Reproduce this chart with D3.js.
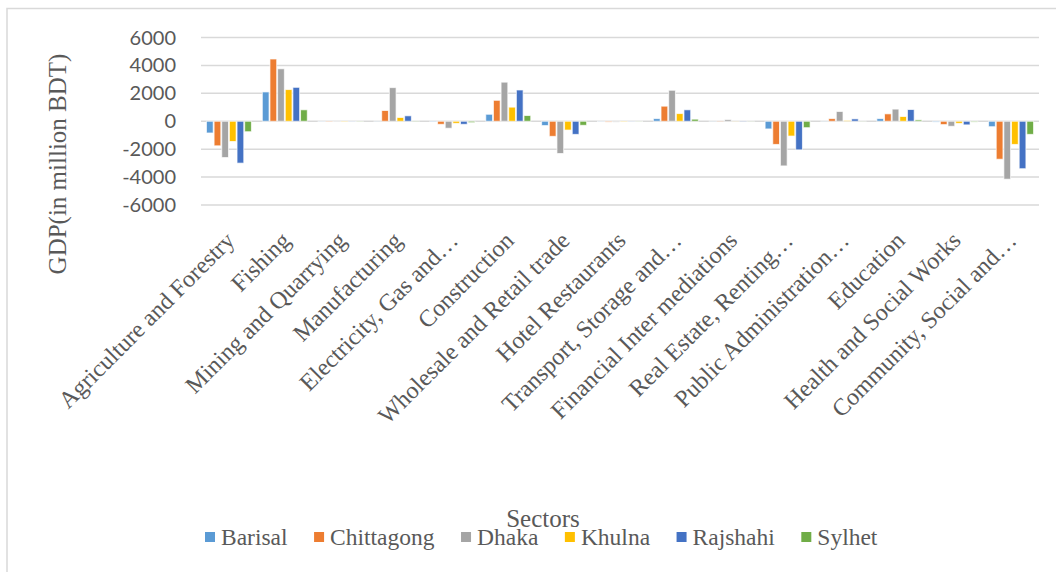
<!DOCTYPE html>
<html>
<head>
<meta charset="utf-8">
<script src="https://cdn.jsdelivr.net/npm/d3@7"></script>
<style>
  body { margin: 0; background: #fff; }
</style>
</head>
<body>
<script>
// sectors on the x axis
const sectors = [
  "Agriculture and Forestry", "Fishing", "Mining and Quarrying", "Manufacturing",
  "Electricity, Gas and…", "Construction", "Wholesale and Retail trade",
  "Hotel Restaurants", "Transport, Storage and…", "Financial Inter mediations",
  "Real Estate, Renting…", "Public Administration…", "Education",
  "Health and Social Works", "Community, Social and…"
];

const divisions = ["Barisal", "Chittagong", "Dhaka", "Khulna", "Rajshahi", "Sylhet"];

// values per division, same order as sectors (million BDT)
const barisal    = [-840, 2100, -20, 10, -40, 500, -310, -20, 190, 10, -550, 10, 190, -60, -390];
const chittagong = [-1760, 4460, -40, 770, -220, 1500, -1080, -60, 1080, 20, -1660, 190, 530, -240, -2720];
const dhaka      = [-2600, 3760, -30, 2410, -500, 2800, -2310, -60, 2220, 120, -3200, 700, 870, -360, -4150];
const khulna     = [-1450, 2270, -40, 270, -150, 1010, -630, -40, 550, 10, -1060, 60, 340, -150, -1660];
const rajshahi   = [-3000, 2430, -20, 390, -220, 2240, -940, -20, 820, 20, -2050, 170, 840, -260, -3400];
const sylhet     = [-750, 820, -30, 20, -100, 410, -290, -20, 150, 10, -460, 10, 100, -60, -940];

const yTicks = [6000, 4000, 2000, 0, -2000, -4000, -6000];

const series = [barisal, chittagong, dhaka, khulna, rajshahi, sylhet];
const colors = ["#5B9BD5", "#ED7D31", "#A5A5A5", "#FFC000", "#4472C4", "#70AD47"];

const width = 1056, height = 572;
const plotL = 201, plotR = 1039, plotT = 37.5, plotB = 205;
const serif = "'Liberation Serif', 'Times New Roman', Times, serif";

const svg = d3.select("body").append("svg")
  .attr("width", width)
  .attr("height", height)
  .style("background-color", "#fff");

// outer chart border (only top/left visible in the crop)
svg.append("rect")
  .attr("x", 7).attr("y", 8.5)
  .attr("width", 1060).attr("height", 600)
  .attr("fill", "none")
  .attr("stroke", "#d9d9d9")
  .attr("stroke-width", 1.5);

const x0 = d3.scaleBand().domain(d3.range(sectors.length)).range([plotL, plotR]).padding(0);
const groupGap = x0.bandwidth() * 0.195;
const x1 = d3.scaleBand().domain(d3.range(divisions.length))
  .range([groupGap / 2, x0.bandwidth() - groupGap / 2]).paddingInner(0.12);
const y = d3.scaleLinear().domain([-6000, 6000]).range([plotB, plotT]);

// gridlines
svg.append("g").selectAll("line")
  .data(yTicks)
  .enter()
  .append("line")
  .attr("x1", plotL).attr("x2", plotR)
  .attr("y1", d => y(d)).attr("y2", d => y(d))
  .attr("stroke", "#d9d9d9")
  .attr("stroke-width", 1.5);

// y tick labels
svg.append("g").selectAll("text")
  .data(yTicks)
  .enter()
  .append("text")
  .attr("x", 176)
  .attr("y", d => y(d))
  .attr("dy", "0.35em")
  .attr("text-anchor", "end")
  .attr("font-family", "Lato, 'Open Sans', sans-serif")
  .attr("font-size", "20px")
  .attr("fill", "#595959")
  .text(d => d);

// bars
series.forEach((vals, si) => {
  svg.append("g").selectAll("rect")
    .data(vals)
    .enter()
    .append("rect")
    .attr("x", (d, i) => x0(i) + x1(si))
    .attr("width", x1.bandwidth())
    .attr("y", d => y(Math.max(0, d)))
    .attr("height", d => Math.abs(y(d) - y(0)))
    .attr("fill", colors[si])
    .attr("stroke", "#fff")
    .attr("stroke-opacity", 0.7)
    .attr("stroke-width", 1);
});

// category labels, rotated
svg.append("g").selectAll("text")
  .data(sectors)
  .enter()
  .append("text")
  .attr("transform", (d, i) => `translate(${x0(i) + x0.bandwidth() / 2 + 7}, 242) rotate(-45)`)
  .attr("text-anchor", "end")
  .attr("font-family", serif)
  .attr("font-size", "24px")
  .attr("fill", "#595959")
  .text(d => d);

// y axis title
svg.append("text")
  .attr("transform", "translate(66, 164) rotate(-90)")
  .attr("text-anchor", "middle")
  .attr("font-family", serif)
  .attr("font-size", "25px")
  .attr("fill", "#595959")
  .text("GDP(in million BDT)");

// x axis title
svg.append("text")
  .attr("x", 543).attr("y", 527)
  .attr("text-anchor", "middle")
  .attr("font-family", serif)
  .attr("font-size", "25px")
  .attr("fill", "#595959")
  .text("Sectors");

// legend
const legend = svg.append("g");
let lx = 205;
divisions.forEach((name, i) => {
  legend.append("rect")
    .attr("x", lx).attr("y", 532)
    .attr("width", 10).attr("height", 10)
    .attr("fill", colors[i]);
  const t = legend.append("text")
    .attr("x", lx + 16).attr("y", 545)
    .attr("font-family", serif)
    .attr("font-size", "23.5px")
    .attr("fill", "#595959")
    .text(name);
  lx += 16 + t.node().getComputedTextLength() + 26.5;
});
</script>
</body>
</html>
